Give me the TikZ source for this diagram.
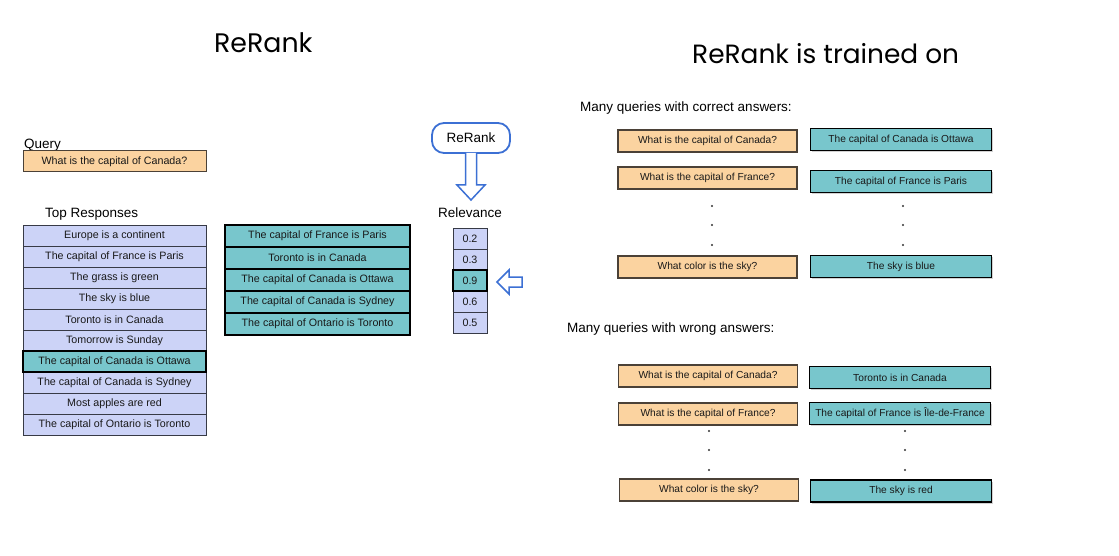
\documentclass[tikz,border=0pt]{standalone}
\usepackage{fontspec}
\setmainfont{Liberation Sans}
\newfontfamily\titlefont{Poppins}
\usetikzlibrary{shadows}
\definecolor{lav}{RGB}{204,211,247}
\definecolor{lavline}{RGB}{55,58,70}
\definecolor{tealc}{RGB}{120,198,204}
\definecolor{orng}{RGB}{251,211,160}
\definecolor{orline}{RGB}{75,65,55}
\definecolor{rrblue}{RGB}{60,112,212}
\begin{document}
\begin{tikzpicture}[x=1pt,y=-1pt,
  txt/.style={font=\fontsize{10.7}{12}\selectfont, text=black!90},
  lbl/.style={font=\fontsize{13.5}{15}\selectfont, inner sep=0},
  lbox/.style={txt, draw=lavline, line width=0.8pt, fill=lav, minimum width=183pt, minimum height=21pt, inner sep=0},
  hlbox/.style={txt, draw=black, line width=2pt, fill=tealc, minimum width=183pt, minimum height=21pt, inner sep=0},
  mbox/.style={txt, draw=black, line width=1.7pt, fill=tealc, minimum width=185pt, minimum height=22pt, inner sep=0},
  relbox/.style={txt, draw=lavline, line width=0.8pt, fill=lav, minimum width=34pt, minimum height=21pt, inner sep=0},
  relhl/.style={txt, draw=black, line width=2pt, fill=tealc, minimum width=34pt, minimum height=21pt, inner sep=0},
  qbox/.style={txt, draw=orline, line width=1pt, fill=orng, minimum width=183pt, minimum height=21pt, inner sep=0},
  obox/.style={font=\fontsize{10.2}{12}\selectfont, text=black!90, draw=orline, line width=1.1pt, fill=orng, minimum width=179pt, minimum height=22pt, inner sep=0},
  tbox/.style={font=\fontsize{10.2}{12}\selectfont, text=black!90, draw=black, line width=1.8pt, fill=tealc, minimum width=181pt, minimum height=22pt, inner sep=0,
     drop shadow={shadow xshift=1.5pt, shadow yshift=-1.5pt, opacity=0.35}},
  dotm/.style={fill=black!80},
  blockarrow/.style={draw=rrblue, line width=1.5pt, fill=white, line join=miter}
]
\useasboundingbox[fill=white] (0,0) rectangle (1119,556);

% titles
\node[anchor=base west, inner sep=0, font=\titlefont\fontsize{26.8}{30}\selectfont] (t1) at (214,53) {ReRank};
\node[anchor=base west, inner sep=0, font=\titlefont\fontsize{26.4}{30}\selectfont] (t2) at (692,64) {ReRank is trained on};

% query
\node[lbl, anchor=base west] (ql) at (24,148.5) {Query};
\node[qbox] (q) at (114.5,161.5) {What is the capital of Canada?};

% top responses
\node[lbl, anchor=base west] (trl) at (45,218) {Top Responses};
\foreach \t [count=\i] in {Europe is a continent, The capital of France is Paris, The grass is green, The sky is blue, Toronto is in Canada, Tomorrow is Sunday, The capital of Canada is Ottawa, The capital of Canada is Sydney, Most apples are red, The capital of Ontario is Toronto}{
  \ifnum\i=7\relax\else
  \node[lbox] (r\i) at (114.5,{225+21*(\i-0.5)}) {\t};
  \fi
}
\node[hlbox] (r7) at (114.5,361.5) {The capital of Canada is Ottawa};

% reranked list
\foreach \t [count=\i] in {The capital of France is Paris, Toronto is in Canada, The capital of Canada is Ottawa, The capital of Canada is Sydney, The capital of Ontario is Toronto}{
  \node[mbox] (m\i) at (317.5,{225+22*(\i-0.5)}) {\t};
}

% relevance
\node[lbl, anchor=base] (rell) at (470,218) {Relevance};
\foreach \t [count=\i] in {0.2,0.3,0.9,0.6,0.5}{
  \ifnum\i=3\relax\else
  \node[relbox] (v\i) at (470,{228+21*(\i-0.5)}) {\t};
  \fi
}
\node[relhl] (v3) at (470,280.5) {0.9};

% ReRank box and arrows
\node[draw=rrblue, line width=1.8pt, fill=white, rounded corners=12pt, minimum width=78pt, minimum height=30pt, inner sep=0, font=\fontsize{13.5}{15}\selectfont] (rr) at (471,138) {ReRank};
\draw[blockarrow] (465.5,153) -- (465.5,185) -- (457,185) -- (471,200) -- (485,185) -- (476.5,185) -- (476.5,153);
\draw[blockarrow] (497,282) -- (509,270) -- (509,277) -- (522,277) -- (522,287) -- (509,287) -- (509,294) -- cycle;

% right: correct answers
\node[lbl, anchor=base west] (c0) at (580,112) {Many queries with correct answers:};
\node[obox] (o1) at (707.5,141) {What is the capital of Canada?};
\node[obox] (o2) at (707.5,178) {What is the capital of France?};
\node[obox] (o3) at (707.5,267) {What color is the sky?};
\node[tbox] (a1) at (901,139.5) {The capital of Canada is Ottawa};
\node[tbox] (a2) at (901,181.5) {The capital of France is Paris};
\node[tbox] (a3) at (901,266.5) {The sky is blue};
\foreach \yy in {206,225,245}{
  \fill[dotm] (712,\yy) circle (1.1pt);
  \fill[dotm] (903,\yy) circle (1.1pt);
}

% right: wrong answers
\node[lbl, anchor=base west] (w0) at (567,332) {Many queries with wrong answers:};
\node[obox] (o4) at (708,376) {What is the capital of Canada?};
\node[obox] (o5) at (708,414) {What is the capital of France?};
\node[obox] (o6) at (709,490) {What color is the sky?};
\node[tbox] (a4) at (900,377.5) {Toronto is in Canada};
\node[tbox] (a5) at (900,413.5) {The capital of France is Île-de-France};
\node[tbox] (a6) at (901,491) {The sky is red};
\foreach \yy in {431,450,470}{
  \fill[dotm] (709,\yy) circle (1.1pt);
  \fill[dotm] (905,\yy) circle (1.1pt);
}
\end{tikzpicture}
\end{document}
